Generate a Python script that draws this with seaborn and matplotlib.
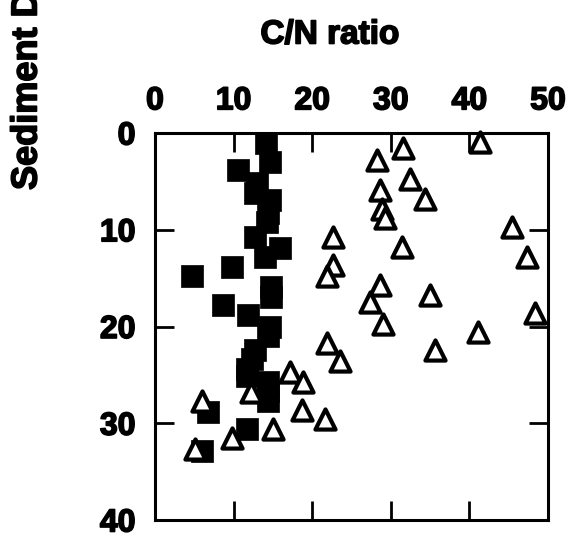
import matplotlib
matplotlib.use("Agg")
import matplotlib.pyplot as plt
import matplotlib.patheffects as pe
import seaborn as sns
import pandas as pd

# Filled squares (C/N ratio vs sediment depth)
cn_square = [14.1, 14.6, 10.6, 13.0, 12.7, 14.6, 14.4, 14.2, 12.7, 15.9, 14.0, 9.8, 4.7,
             14.8, 14.8, 8.7, 11.8, 14.6, 14.4, 12.7, 12.3, 11.7, 11.7, 14.4, 14.4, 14.4,
             6.7, 11.7, 6.0]
depth_square = [1.0, 3.0, 3.8, 5.2, 6.2, 6.9, 8.3, 9.2, 10.8, 11.9, 12.8, 13.8, 14.8,
                15.9, 17.0, 17.8, 18.8, 20.0, 21.0, 22.4, 23.4, 24.4, 25.1, 25.7, 26.7, 27.7,
                28.8, 30.6, 32.9]

# Open triangles
cn_tri = [41.3, 31.6, 28.3, 32.4, 28.6, 34.4, 28.9, 29.3, 22.7, 31.4, 45.4, 47.3, 22.6,
          21.9, 28.6, 27.4, 35.0, 48.3, 29.0, 41.1, 35.6, 21.9, 23.5, 17.2, 18.8, 12.2,
          6.0, 18.7, 21.6, 15.0, 9.8, 5.1]
depth_tri = [0.9, 1.6, 2.8, 4.8, 5.9, 6.8, 7.9, 8.8, 10.7, 11.8, 9.7, 12.8, 13.6,
             14.8, 15.7, 17.5, 16.7, 18.6, 19.7, 20.6, 22.4, 21.7, 23.6, 24.7, 25.7, 26.8,
             27.7, 28.6, 29.6, 30.6, 31.5, 32.7]

x_ticks = [0, 10, 20, 30, 40, 50]
y_ticks = [0, 10, 20, 30, 40]

sns.set_style("ticks")
plt.rcParams['font.family'] = ['Liberation Sans', 'DejaVu Sans']
plt.rcParams['font.weight'] = 'bold'
for k in ['text.color', 'axes.labelcolor', 'xtick.color', 'ytick.color', 'axes.edgecolor']:
    plt.rcParams[k] = 'black'

heavy = [pe.withStroke(linewidth=1.2, foreground='black')]

df_sq = pd.DataFrame({"cn": cn_square, "depth": depth_square})
df_tr = pd.DataFrame({"cn": cn_tri, "depth": depth_tri})

W, H = 572, 541
fig = plt.figure(figsize=(W / 100, H / 100), dpi=100)
ax = fig.add_axes([155 / W, 1 - 520 / H, (548 - 155) / W, (520 - 133) / H])

sns.scatterplot(data=df_sq, x="cn", y="depth", ax=ax, marker="s", s=235,
                color="black", edgecolor="black", linewidth=0.5, zorder=3, clip_on=False)
sns.scatterplot(data=df_tr, x="cn", y="depth", ax=ax, marker="^", s=210,
                facecolor="white", edgecolor="black", linewidth=3.0, zorder=4, clip_on=False)

ax.set_xlim(0, 50)
ax.set_ylim(40, 0)
ax.set_xticks(x_ticks)
ax.set_yticks(y_ticks)
ax.set_xticklabels([str(v) for v in x_ticks])
ax.set_yticklabels([str(v) for v in y_ticks])
ax.xaxis.set_ticks_position('both')
ax.yaxis.set_ticks_position('both')
ax.tick_params(axis='x', labeltop=True, labelbottom=False)
ax.tick_params(axis='both', direction='in', length=14, width=2, labelsize=23, pad=14, colors='black')
ax.tick_params(axis='x', pad=12)
for lab in ax.get_xticklabels() + ax.get_yticklabels():
    lab.set_fontweight('bold')
    lab.set_path_effects(heavy)
for sp in ax.spines.values():
    sp.set_visible(True)
    sp.set_linewidth(2.2)
    sp.set_color('black')
ax.set_xlabel("")
ax.set_ylabel("")

fig.text(330 / W, 1 - 35 / H, "C/N ratio", ha='center', va='center',
         fontsize=24, fontweight='bold', path_effects=heavy)
fig.text(27 / W, 1 - 190 / H, "Sediment Depth (cm)", rotation=90, ha='center', va='bottom',
         fontsize=26, fontweight='bold', path_effects=heavy)

fig.savefig("out.png", dpi=100, facecolor='white')
